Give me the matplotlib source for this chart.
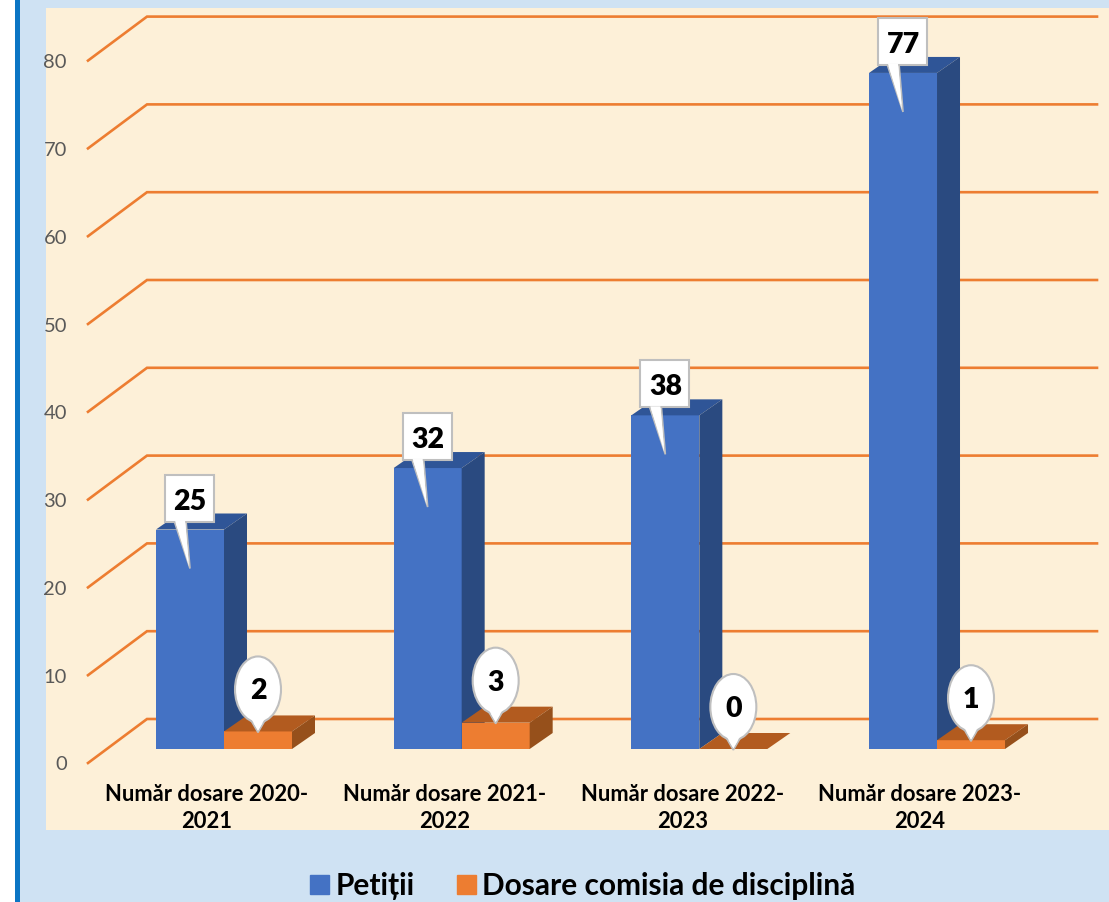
import numpy as np
import matplotlib
matplotlib.use("Agg")
import matplotlib.pyplot as plt
from matplotlib.patches import Polygon, Rectangle, Ellipse

plt.rcParams['font.family'] = ['Lato', 'Noto Sans', 'DejaVu Sans']

categories = ['Număr dosare 2020-\n2021', 'Număr dosare 2021-\n2022',
              'Număr dosare 2022-\n2023', 'Număr dosare 2023-\n2024']
petitii = [25, 32, 38, 77]
dosare = [2, 3, 0, 1]
y_ticks = [0, 10, 20, 30, 40, 50, 60, 70, 80]
series_names = ['Petiții', 'Dosare comisia de disciplină']

W, H = 1109, 902
PX_X = 237.67   # pixels per category
PX_Y = 8.78     # pixels per unit of value
X0 = 224        # pixel of category 0 (between its two bars)
Y0 = 749        # pixel of value 0 on the front of the bars
BAR_W = 68 / PX_X
DX, DY = 23, 16  # 3d depth of the bars


def sx(p):
    return p / PX_X


def sy(p):
    return p / PX_Y


def to_x(p):
    return (p - X0) / PX_X


def to_y(p):
    return (Y0 - p) / PX_Y


def box3d(ax, left, value, front, top, side):
    right = left + BAR_W
    ax.bar(left, value, BAR_W, align='edge', color=front, zorder=3)
    ax.add_patch(Polygon([(left, value), (right, value),
                          (right + sx(DX), value + sy(DY)), (left + sx(DX), value + sy(DY))],
                         color=top, lw=0, zorder=3))
    ax.add_patch(Polygon([(right, 0), (right, value), (right + sx(DX), value + sy(DY)),
                          (right + sx(DX), sy(DY))], color=side, lw=0, zorder=3))


fig = plt.figure(figsize=(W / 100, H / 100), dpi=100, facecolor='white')
ax = fig.add_axes([0, 0, 1, 1])
ax.set_xlim(to_x(0), to_x(W))
ax.set_ylim(to_y(H), to_y(0))
ax.axis('off')

# background and panel
ax.add_patch(Rectangle((to_x(15), to_y(H)), sx(W), sy(H), color='#cfe2f3', lw=0, zorder=0))
ax.add_patch(Rectangle((to_x(15), to_y(H)), sx(5), sy(H), color='#0b75c4', lw=0, zorder=1))
ax.add_patch(Rectangle((to_x(46), to_y(830)), sx(W - 46), sy(822), color='#fdf0d8', lw=0, zorder=1))

# walls grid
for v in y_ticks:
    ax.plot([to_x(88), to_x(147), to_x(1097)],
            [v - sy(14), v + sy(30), v + sy(30)], color='#ed7d31', lw=1.9, zorder=2,
            solid_joinstyle='miter')
    ax.text(to_x(67), v - sy(16), str(v), ha='right', va='center', fontsize=14.5,
            color='#595959', zorder=2)

for i in range(len(categories)):
    box3d(ax, i - BAR_W, petitii[i], '#4472c4', '#2f5597', '#2a4a80')
    box3d(ax, i, dosare[i], '#ed7d31', '#b25b1f', '#96501b')
    ax.text(i - sx(17), to_y(808), categories[i], ha='center', va='center', fontsize=15.8,
            fontweight='bold', color='black', linespacing=1.36, zorder=4)

    # square callout on blue bars
    left = i - BAR_W
    val = petitii[i]
    ax.add_patch(Polygon([(left + sx(18), val + sy(9)), (left + sx(34), val - sy(39)),
                          (left + sx(30), val + sy(9))],
                         fc='white', ec='#bfbfbf', lw=1.2, zorder=5))
    ax.add_patch(Rectangle((left + sx(9), val + sy(8)), sx(49), sy(47),
                           fc='white', ec='#bfbfbf', lw=1.5, zorder=5))
    ax.add_patch(Polygon([(left + sx(19), val + sy(9)), (left + sx(33), val - sy(37)),
                          (left + sx(29), val + sy(9))], fc='white', lw=0, zorder=6))
    ax.text(left + sx(34), val + sy(28), str(val), ha='center', va='center', fontsize=20.5,
            fontweight='heavy', color='black', zorder=7)

    # round callout on orange bars
    center = i + BAR_W / 2
    val = dosare[i]
    ax.add_patch(Polygon([(center - sx(7), val + sy(11)), (center, val - sy(1)),
                          (center + sx(7), val + sy(11))],
                         fc='white', ec='#bfbfbf', lw=1.2, zorder=5))
    ax.add_patch(Ellipse((center, val + sy(42)), sx(46), sy(66),
                         fc='white', ec='#bfbfbf', lw=1.5, zorder=5))
    ax.add_patch(Polygon([(center - sx(7), val + sy(13)), (center, val + sy(1)),
                          (center + sx(7), val + sy(13))], fc='white', lw=0, zorder=6))
    ax.text(center, val + sy(40), str(val), ha='center', va='center', fontsize=20.5,
            fontweight='heavy', color='black', zorder=7)

# legend
handles = [Rectangle((0, 0), 1, 1, color='#4472c4'), Rectangle((0, 0), 1, 1, color='#ed7d31')]
ax.legend(handles, series_names, ncols=2, frameon=False, loc='center',
          bbox_to_anchor=(583 / W, 1 - 886 / H), prop={'size': 21.5, 'weight': 'bold'},
          handlelength=0.62, handleheight=0.62, handletextpad=0.22, columnspacing=1.43)

fig.savefig('out.png', dpi=100)
